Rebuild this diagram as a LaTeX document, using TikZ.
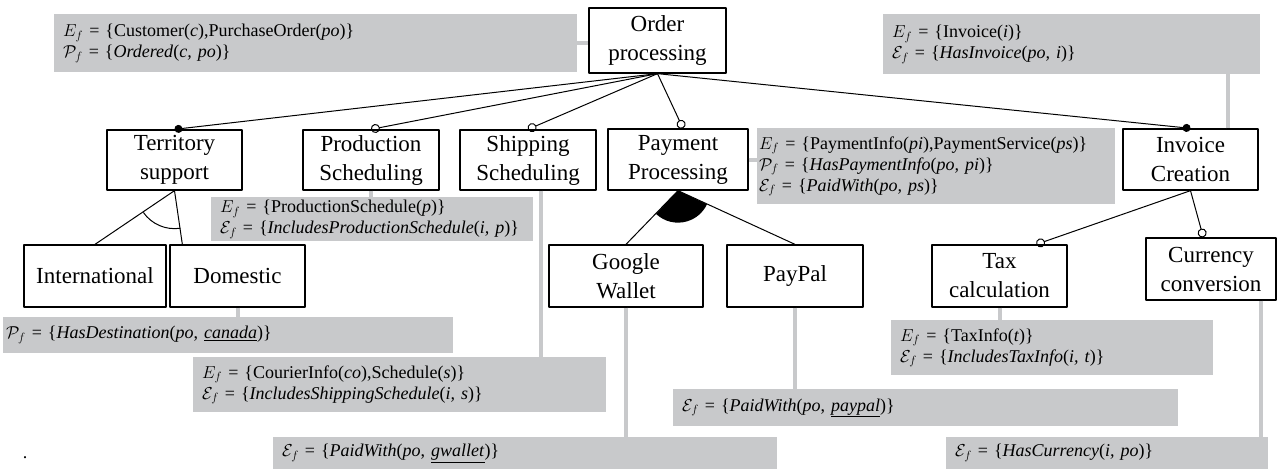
\documentclass[tikz,border=0pt]{standalone}
\usepackage{fontspec}
\setmainfont{Liberation Serif}
\usetikzlibrary{arrows.meta}
\definecolor{notegray}{RGB}{200,201,203}
\newcommand{\fent}{$E_f$}
\newcommand{\fpred}{$\mathcal{P}_f$}
\newcommand{\frel}{$\mathcal{E}_f$}
\begin{document}
\begin{tikzpicture}[x=1pt,y=-1pt,line join=round,
  feat/.style={draw,line width=1.3pt,align=center,inner sep=0pt,font=\fontsize{23}{29}\selectfont},
  note/.style={fill=notegray,anchor=north west,inner ysep=0pt,inner xsep=9pt,align=left,font=\fontsize{18}{21}\selectfont},
  tie/.style={line width=1pt},
  link/.style={notegray,line width=4pt},
  mand/.style={-{Circle[length=8pt]}},
  opt/.style={-{Circle[open,length=9pt]}}]
\useasboundingbox (0,0) rectangle (1279,469);
% feature boxes
\node[feat,minimum width=137pt,minimum height=65pt] (order) at (657.5,40.5) {Order\\processing};
\node[feat,minimum width=135pt,minimum height=60pt] (territory) at (174.5,160) {Territory\\support};
\node[feat,minimum width=136pt,minimum height=60pt] (production) at (371,160) {Production\\Scheduling};
\node[feat,minimum width=136pt,minimum height=60pt] (shipping) at (528,160) {Shipping\\Scheduling};
\node[feat,minimum width=140pt,minimum height=61pt] (payment) at (678,159.5) {Payment\\Processing};
\node[feat,minimum width=135pt,minimum height=61pt] (invoice) at (1190.5,159.5) {Invoice\\Creation};
\node[feat,minimum width=142pt,minimum height=62pt] (international) at (95,276) {International};
\node[feat,minimum width=135pt,minimum height=62pt] (domestic) at (237.5,276) {Domestic};
\node[feat,minimum width=154pt,minimum height=62pt] (gwallet) at (626,276) {Google\\Wallet};
\node[feat,minimum width=136pt,minimum height=62pt] (paypal) at (795,276) {PayPal};
\node[feat,minimum width=135pt,minimum height=62pt] (tax) at (999.5,276) {Tax\\calculation};
\node[feat,minimum width=130pt,minimum height=62pt] (currency) at (1211,269) {Currency\\conversion};
% annotations
\node[note,text width=505pt,minimum height=58pt] (ordernote) at (54,14)
  {\fent{} = \{Customer(\textit{c}),PurchaseOrder(\textit{po})\}\\
   \fpred{} = \{\textit{Ordered}(\textit{c, po})\}};
\node[note,text width=359pt,minimum height=60pt] (invoicenote) at (883,14)
  {\fent{} = \{Invoice(\textit{i})\}\\
   \frel{} = \{\textit{HasInvoice}(\textit{po, i})\}};
\node[note,inner xsep=2pt,text width=354pt,minimum height=76pt] (paynote) at (757,128)
  {\fent{} = \{PaymentInfo(\textit{pi}),PaymentService(\textit{ps})\}\\
   \fpred{} = \{\textit{HasPaymentInfo}(\textit{po, pi})\}\\
   \frel{} = \{\textit{PaidWith}(\textit{po, ps})\}};
\node[note,text width=304pt,minimum height=44pt] (prodnote) at (211,197)
  {\fent{} = \{ProductionSchedule(\textit{p})\}\\
   \frel{} = \{\textit{IncludesProductionSchedule}(\textit{i, p})\}};
\node[note,inner xsep=3pt,text width=444pt,minimum height=36pt] (domnote) at (3,317)
  {\fpred{} = \{\textit{HasDestination}(\textit{po}, \underline{\textit{canada}})\}};
\node[note,text width=395pt,minimum height=55pt] (shipnote) at (193,357)
  {\fent{} = \{CourierInfo(\textit{co}),Schedule(\textit{s})\}\\
   \frel{} = \{\textit{IncludesShippingSchedule}(\textit{i, s})\}};
\node[note,text width=304pt,minimum height=55pt] (taxnote) at (891,320)
  {\fent{} = \{TaxInfo(\textit{t})\}\\
   \frel{} = \{\textit{IncludesTaxInfo}(\textit{i, t})\}};
\node[note,text width=487pt,minimum height=37pt] (paypalnote) at (673,389)
  {\frel{} = \{\textit{PaidWith}(\textit{po}, \underline{\textit{paypal}})\}};
\node[note,text width=486pt,minimum height=32pt] (gwnote) at (273,437)
  {\frel{} = \{\textit{PaidWith}(\textit{po}, \underline{\textit{gwallet}})\}};
\node[note,text width=304pt,minimum height=32pt] (curnote) at (946,437)
  {\frel{} = \{\textit{HasCurrency}(\textit{i, po})\}};
\node[font=\fontsize{18}{21}\selectfont] (dot) at (25,458) {.};
% annotation links
\draw[link] (ordernote.east) -- (ordernote.east -| order.west);
\draw[link] ([xshift=37.5pt]invoice.north) -- ([xshift=37.5pt]invoice.north |- invoicenote.south);
\draw[link] (payment.east) -- (payment.east -| paynote.west);
\draw[link] (production.south) -- (production.south |- prodnote.north);
\draw[link] (domestic.south) -- (domestic.south |- domnote.north);
\draw[link] ([xshift=13pt]shipping.south) -- ([xshift=13pt]shipping.south |- shipnote.north);
\draw[link] (tax.south) -- (tax.south |- taxnote.north);
\draw[link] (paypal.south) -- (paypal.south |- paypalnote.north);
\draw[link] (gwallet.south) -- (gwallet.south |- gwnote.north);
\draw[link] ([xshift=50pt]currency.south) -- ([xshift=50pt]currency.south |- curnote.north);
% feature tree
\draw[tie,mand] (order.south) -- (territory.north);
\draw[tie,opt] (order.south) -- (production.north);
\draw[tie,opt] (order.south) -- (shipping.north);
\draw[tie,opt] (order.south) -- ([xshift=5pt]payment.north);
\draw[tie,mand] (order.south) -- (invoice.north);
\draw[tie] (territory.south) -- (international.north);
\draw[tie] (territory.south) -- ([xshift=13pt]domestic.north west);
\draw[tie] (territory.south) ++(215:38pt) arc (215:279:38pt);
\draw[tie] (payment.south) -- (gwallet.north);
\draw[tie] (payment.south) -- (paypal.north);
\fill (payment.south) -- ++(226.6:32pt) arc (226.6:334.8:32pt) -- cycle;
\draw[tie,opt] (invoice.south) -- ([xshift=105pt]tax.north west);
\draw[tie,opt] (invoice.south) -- ([xshift=58pt]currency.north west);
\end{tikzpicture}
\end{document}
